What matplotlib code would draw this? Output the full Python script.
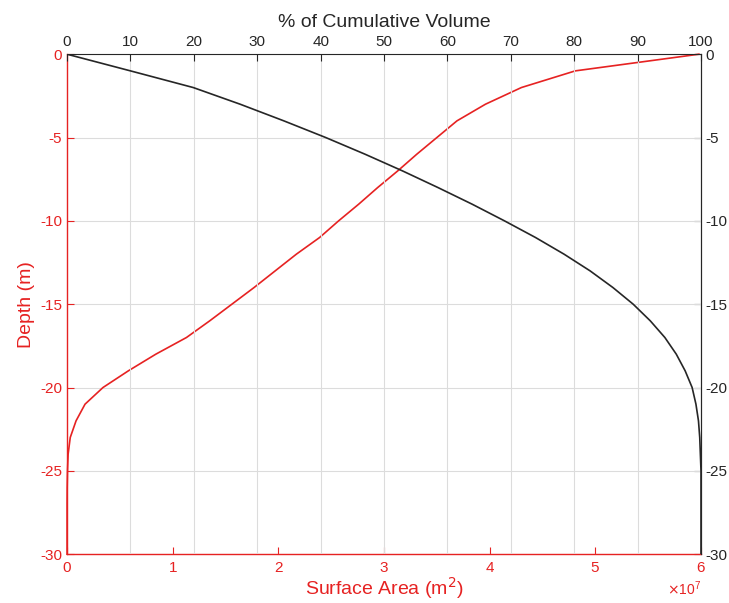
import matplotlib.pyplot as plt
from matplotlib.ticker import ScalarFormatter

plt.rcParams['font.family'] = ['Liberation Sans', 'DejaVu Sans']
plt.rcParams['axes.unicode_minus'] = False

# depth (m)
depth = [0, -1, -2, -3, -4, -5, -6, -7, -8, -9, -10, -11, -12, -13, -14, -15,
         -16, -17, -18, -19, -20, -21, -22, -23, -24, -25, -26, -27, -28, -29, -30]
# surface area (m^2)
area = [5.98e7, 4.81e7, 4.30e7, 3.96e7, 3.69e7, 3.50e7, 3.31e7, 3.13e7, 2.94e7,
        2.76e7, 2.57e7, 2.39e7, 2.17e7, 1.97e7, 1.77e7, 1.56e7, 1.35e7, 1.13e7,
        0.84e7, 0.58e7, 0.34e7, 0.17e7, 0.085e7, 0.03e7, 0.01e7, 0.004e7,
        0.001e7, 0, 0, 0, 0]
# % of cumulative volume
cum_vol = [0, 10.0, 19.9, 27.3, 34.2, 40.8, 47.0, 52.9, 58.5, 63.9, 69.0, 73.9,
           78.4, 82.5, 86.1, 89.3, 92.0, 94.3, 96.1, 97.5, 98.6, 99.2, 99.6,
           99.8, 99.9, 100, 100, 100, 100, 100, 100]

RED = '#e62222'
DARK = '#262626'
GRID = '#dcdcdc'

fig = plt.figure(figsize=(7.29, 6.03), dpi=100)
ax = fig.add_axes([0.092, 0.081, 0.8696, 0.8291])

ax.plot(area, depth, color=RED, lw=1.2, zorder=3, clip_on=False)
ax.set_xlim(0, 6e7)
ax.set_ylim(-30, 0)
ax.set_xticks([0, 1e7, 2e7, 3e7, 4e7, 5e7, 6e7])
ax.set_yticks([-30, -25, -20, -15, -10, -5, 0])
fmt = ScalarFormatter(useMathText=True)
fmt.set_powerlimits((0, 0))
ax.xaxis.set_major_formatter(fmt)
ax.tick_params(axis='both', direction='in', length=5, width=0.8,
               colors=RED, labelsize=11)
ax.tick_params(axis='x', pad=5)
ax.xaxis.get_offset_text().set_color(RED)
ax.xaxis.get_offset_text().set_fontsize(10)
ax.set_xlabel('Surface Area (m$^2$)', color=RED, fontsize=14, labelpad=0)
ax.set_ylabel('Depth (m)', color=RED, fontsize=14, labelpad=4)
ax.grid(axis='y', color=GRID, lw=0.8)
ax.set_axisbelow(True)
for s in ['left', 'bottom']:
    ax.spines[s].set_color(RED)
    ax.spines[s].set_linewidth(1.0)
ax.spines['right'].set_visible(False)
ax.spines['top'].set_visible(False)

# top axis: cumulative volume
ax_top = ax.twiny()
ax_top.plot(cum_vol, depth, color=DARK, lw=1.2, zorder=3)
ax_top.set_xlim(0, 100)
ax_top.set_xticks(range(0, 101, 10))
ax_top.tick_params(axis='x', direction='in', length=5, width=0.8,
                   colors=DARK, labelsize=11)
ax_top.set_xlabel('% of Cumulative Volume', color=DARK, fontsize=14, labelpad=6)
ax_top.grid(axis='x', color=GRID, lw=0.8, zorder=0)
ax_top.set_axisbelow(True)
glines = ax_top.xaxis.get_gridlines()
glines[0].set_visible(False)
glines[-1].set_visible(False)
ax_top.spines['top'].set_color(DARK)
ax_top.spines['right'].set_color(DARK)
ax_top.spines['left'].set_visible(False)
ax_top.spines['bottom'].set_visible(False)

# right axis: depth
ax_r = ax.secondary_yaxis('right')
ax_r.set_yticks([-30, -25, -20, -15, -10, -5, 0])
ax_r.tick_params(direction='in', length=5, width=0.8, colors=DARK,
                 labelsize=11, pad=3)
ax_r.spines['right'].set_color(DARK)

fig.savefig('out.png', dpi=100)
